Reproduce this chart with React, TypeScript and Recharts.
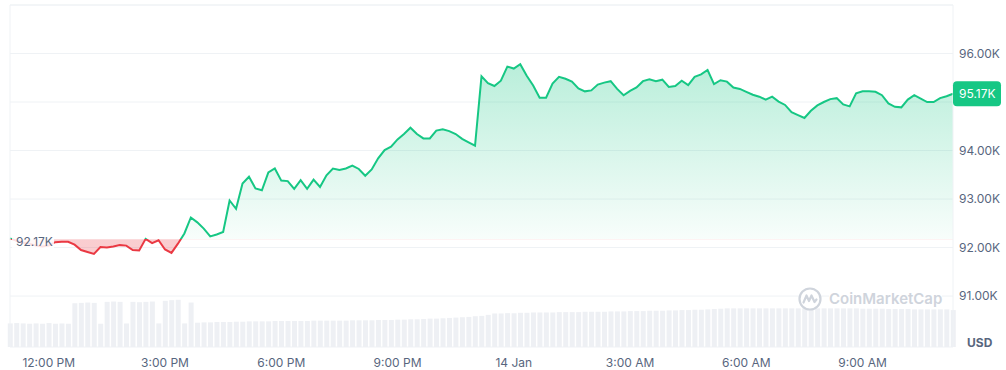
import { ComposedChart, Area, Bar, XAxis, YAxis, CartesianGrid, ReferenceLine } from 'recharts';

// BTC/USD, one point every 10 minutes starting 13 Jan 11:00 AM (values in K USD)
const prices = [
  92.19, 92.14, 92.1, 92.08, 92.04, 92.02, 92.04, 92.11, 92.12, 92.12,
  92.06, 91.95, 91.91, 91.87, 92.01, 92.0, 92.02, 92.05, 92.04, 91.95,
  91.94, 92.18, 92.09, 92.15, 91.96, 91.89, 92.08, 92.29, 92.62, 92.52,
  92.39, 92.23, 92.27, 92.32, 92.97, 92.8, 93.32, 93.46, 93.22, 93.18,
  93.55, 93.63, 93.38, 93.37, 93.21, 93.39, 93.21, 93.4, 93.25, 93.49,
  93.63, 93.6, 93.63, 93.69, 93.62, 93.48, 93.61, 93.84, 94.01, 94.08,
  94.23, 94.34, 94.47, 94.34, 94.25, 94.25, 94.41, 94.44, 94.4, 94.34,
  94.24, 94.17, 94.1, 95.53, 95.39, 95.33, 95.44, 95.73, 95.69, 95.78,
  95.54, 95.34, 95.09, 95.09, 95.38, 95.52, 95.48, 95.42, 95.28, 95.22,
  95.24, 95.36, 95.4, 95.43, 95.27, 95.14, 95.23, 95.3, 95.43, 95.47,
  95.43, 95.46, 95.31, 95.33, 95.44, 95.35, 95.52, 95.57, 95.66, 95.37,
  95.45, 95.42, 95.3, 95.27, 95.21, 95.15, 95.11, 95.05, 95.11, 95.01,
  94.94, 94.79, 94.73, 94.67, 94.82, 94.93, 95.0, 95.06, 95.08, 94.95,
  94.91, 95.18, 95.22, 95.22, 95.21, 95.14, 94.97, 94.9, 94.89, 95.05,
  95.14, 95.07, 95.0, 95.0, 95.08, 95.12, 95.17,
];

// traded volume per bucket (arbitrary units, axis hidden)
const volumes = [
  6.9, 7.0, 6.9, 6.8, 6.9, 6.8, 7.0, 6.8, 6.9, 6.8,
  12.8, 12.9, 13.0, 12.9, 6.8, 13.2, 13.3, 13.2, 6.9, 13.2,
  13.1, 13.2, 13.3, 6.9, 13.5, 13.7, 13.8, 6.9, 13.0, 7.1,
  7.2, 7.2, 7.3, 7.3, 7.3, 7.4, 7.4, 7.5, 7.5, 7.5,
  7.5, 7.6, 7.6, 7.6, 7.6, 7.6, 7.6, 7.7, 7.7, 7.7,
  7.7, 7.7, 7.7, 7.8, 7.8, 7.8, 7.8, 7.9, 7.9, 7.9,
  8.0, 8.0, 8.1, 8.1, 8.2, 8.3, 8.3, 8.4, 8.5, 8.6,
  8.7, 8.8, 9.0, 9.1, 9.4, 9.8, 9.8, 9.9, 9.9, 10.0,
  10.0, 10.1, 10.1, 10.1, 10.1, 10.2, 10.2, 10.2, 10.2, 10.3,
  10.3, 10.3, 10.3, 10.4, 10.4, 10.4, 10.5, 10.5, 10.5, 10.6,
  10.6, 10.6, 10.7, 10.7, 10.8, 10.8, 10.9, 10.9, 11.0, 11.1,
  11.2, 11.3, 11.3, 11.3, 11.3, 11.3, 11.3, 11.3, 11.3, 11.3,
  11.3, 11.3, 11.3, 11.3, 11.3, 11.3, 11.3, 11.3, 11.3, 11.3,
  11.3, 11.3, 11.2, 11.2, 11.2, 11.2, 11.1, 11.1, 11.1, 11.1,
  11.0, 11.0, 11.0, 11.0, 11.0, 11.0, 10.8,
];

const stepMinutes = 10;
const xTicks = [60, 240, 420, 600, 780, 960, 1140, 1320];
const xTickLabels = ['12:00 PM', '3:00 PM', '6:00 PM', '9:00 PM', '14 Jan', '3:00 AM', '6:00 AM', '9:00 AM'];
const yTicks = [91, 92, 93, 94, 95, 96];
const openPrice = 92.17;
const lastPrice = prices[prices.length - 1];

const data = prices.map((price, i) => ({ t: i * stepMinutes, price, volume: volumes[i] }));

const GREEN = '#16c784';
const RED = '#ea3943';
const AXIS_TEXT = '#58667e';
const GRID = '#eff2f5';

const hi = Math.max(...prices);
const lo = Math.min(...prices);
const split = (hi - openPrice) / (hi - lo);

function OpenLabel(props: any) {
  const { x, y } = props.viewBox;
  return (
    <g>
      <rect x={x + 2} y={y - 8} width={42} height={17} fill="#fff" fillOpacity={0.85} />
      <text x={x + 6} y={y + 2} dominantBaseline="central" fill={AXIS_TEXT} fontSize={12}>
        {openPrice.toFixed(2)}K
      </text>
    </g>
  );
}

function LastLabel(props: any) {
  const { x, y, width } = props.viewBox;
  return (
    <g>
      <rect x={x + width} y={y - 12.5} width={48} height={25} rx={4} fill={GREEN} />
      <text x={x + width + 6} y={y} dominantBaseline="central" fill="#fff" fontSize={12}>
        {lastPrice.toFixed(2)}K
      </text>
    </g>
  );
}

export default function App() {
  return (
    <div style={{ position: 'absolute', left: 0, top: 0, width: 1006, height: 370, fontFamily: 'Inter, sans-serif' }}>
      <ComposedChart width={1006} height={370} data={data} margin={{ top: 5, right: 0, bottom: 0, left: 10 }}>
        <defs>
          <linearGradient id="strokeSplit" x1="0" y1="0" x2="0" y2="1">
            <stop offset={split} stopColor={GREEN} />
            <stop offset={split} stopColor={RED} />
          </linearGradient>
          <linearGradient id="fillSplit" x1="0" y1="0" x2="0" y2="1">
            <stop offset={0} stopColor={GREEN} stopOpacity={0.3} />
            <stop offset={split} stopColor={GREEN} stopOpacity={0.03} />
            <stop offset={split} stopColor={RED} stopOpacity={0.25} />
            <stop offset={1} stopColor={RED} stopOpacity={0.25} />
          </linearGradient>
        </defs>
        <CartesianGrid yAxisId="price" vertical={false} stroke={GRID} />
        <XAxis
          dataKey="t"
          type="number"
          domain={[0, 1460]}
          ticks={xTicks}
          interval={0}
          tickFormatter={(v) => xTickLabels[xTicks.indexOf(v)] ?? ''}
          axisLine={false}
          tickLine={false}
          tickMargin={5}
          height={23}
          tick={{ fill: AXIS_TEXT, fontSize: 12 }}
        />
        <YAxis
          yAxisId="price"
          orientation="right"
          domain={[89.95, 97]}
          ticks={yTicks}
          width={53}
          axisLine={false}
          tickLine={false}
          tickMargin={0}
          tickFormatter={(v) => (v === 95 ? '' : `${v.toFixed(2)}K`)}
          tick={{ fill: AXIS_TEXT, fontSize: 12, textAnchor: 'start' }}
        />
        <YAxis yAxisId="vol" hide domain={[0, 100]} />
        <ReferenceLine yAxisId="price" y={97} stroke={GRID} />
        <ReferenceLine yAxisId="price" x={0} stroke={GRID} />
        <ReferenceLine yAxisId="price" x={1460} stroke={GRID} />
        <Bar yAxisId="vol" dataKey="volume" fill="#eef0f4" barSize={5} isAnimationActive={false} />
        <Area
          yAxisId="price"
          type="linear"
          dataKey="price"
          baseValue={openPrice}
          stroke="url(#strokeSplit)"
          strokeWidth={2}
          fill="url(#fillSplit)"
          fillOpacity={1}
          dot={false}
          activeDot={false}
          isAnimationActive={false}
        />
        <ReferenceLine yAxisId="price" y={openPrice} stroke="none" label={(p: any) => <OpenLabel {...p} />} />
        <ReferenceLine yAxisId="price" y={lastPrice} stroke="none" label={(p: any) => <LastLabel {...p} />} />
      </ComposedChart>
      <div
        style={{
          position: 'absolute',
          left: 798,
          top: 287,
          display: 'flex',
          alignItems: 'center',
          gap: 7,
          color: '#cfd4dc',
          pointerEvents: 'none',
        }}
      >
        <svg width={24} height={24} viewBox="0 0 24 24">
          <circle cx={12} cy={12} r={10.5} fill="#fff" stroke="currentColor" strokeWidth={2.2} />
          <path
            d="M5.5 15.5 L8.5 8.5 L11 14 L13.5 8.5 L16.5 15 L18.5 12.5"
            fill="none"
            stroke="currentColor"
            strokeWidth={2.2}
            strokeLinejoin="round"
            strokeLinecap="round"
          />
        </svg>
        <span style={{ fontSize: 15, fontWeight: 600, background: '#fff', lineHeight: '18px' }}>CoinMarketCap</span>
      </div>
      <div style={{ position: 'absolute', left: 967, top: 335, fontSize: 12, fontWeight: 700, color: AXIS_TEXT }}>USD</div>
    </div>
  );
}
